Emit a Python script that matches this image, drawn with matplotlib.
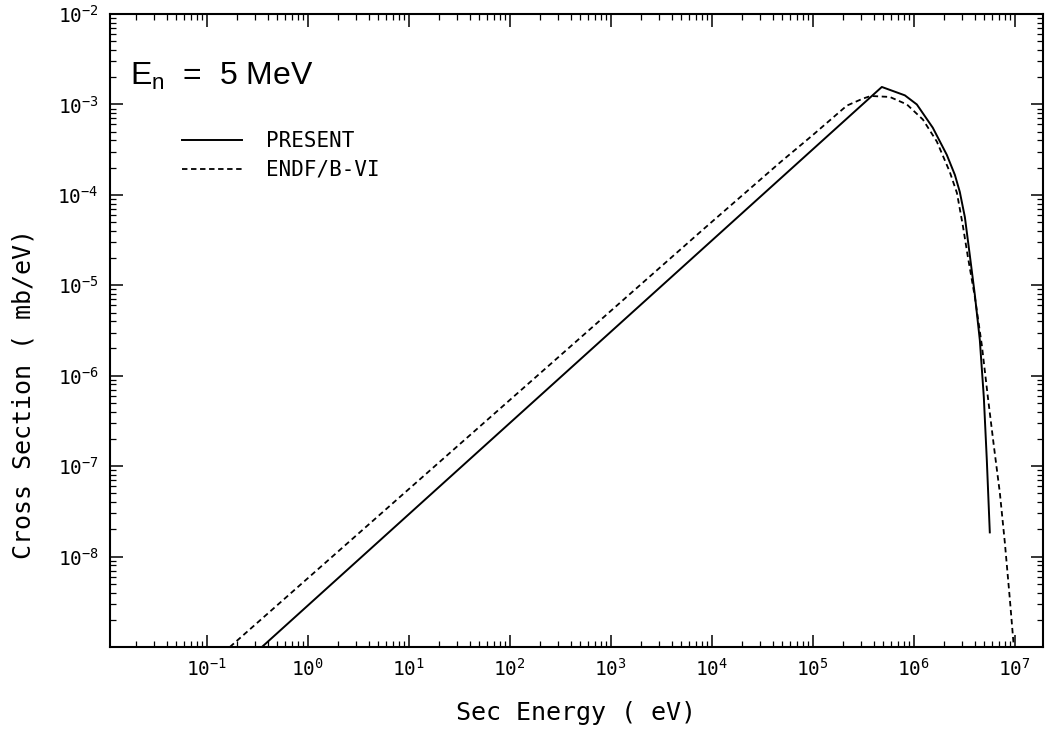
import matplotlib
matplotlib.use("Agg")
import matplotlib.pyplot as plt
from matplotlib.ticker import FixedLocator, LogLocator, NullFormatter

# secondary energy spectrum, En = 5 MeV

# PRESENT (solid)
present_e = [0.351, 4.82e5, 8.15e5, 1.07e6, 1.54e6, 2.12e6, 2.55e6, 2.85e6,
             3.20e6, 3.58e6, 4.02e6, 4.50e6, 4.93e6, 5.28e6, 5.65e6]
present_xs = [1.0e-9, 1.56e-3, 1.26e-3, 1.0e-3, 5.53e-4, 2.77e-4, 1.66e-4, 1.08e-4,
              5.68e-5, 2.16e-5, 7.8e-6, 2.48e-6, 5.78e-7, 1.16e-7, 1.85e-8]

# ENDF/B-VI (dashed)
endf_e = [0.169, 8.15e3, 4.71e4, 1.0e5, 2.17e5, 3.13e5, 3.75e5, 5.78e5, 8.53e5,
          1.23e6, 1.69e6, 2.27e6, 2.67e6, 3.05e6, 3.43e6, 4.02e6, 4.71e6, 5.41e6,
          6.19e6, 7.1e6, 7.96e6, 8.92e6, 9.77e6]
endf_xs = [1.0e-9, 4.12e-5, 2.27e-4, 4.59e-4, 9.7e-4, 1.16e-3, 1.24e-3, 1.21e-3, 1.0e-3,
           6.8e-4, 3.88e-4, 1.79e-4, 1.05e-4, 4.63e-5, 2.05e-5, 7.4e-6, 2.18e-6, 5.77e-7,
           1.69e-7, 5.1e-8, 1.43e-8, 3.4e-9, 1.0e-9]

x_major = [1e-1, 1e0, 1e1, 1e2, 1e3, 1e4, 1e5, 1e6, 1e7]
x_exps = [-1, 0, 1, 2, 3, 4, 5, 6, 7]
y_major = [1e-8, 1e-7, 1e-6, 1e-5, 1e-4, 1e-3, 1e-2]
y_exps = [-8, -7, -6, -5, -4, -3, -2]

MONO = "DejaVu Sans Mono"
plt.rcParams["font.family"] = MONO

fig = plt.figure(figsize=(10.49, 7.30), dpi=100)
ax = fig.add_axes([110 / 1049, 83 / 730, 933 / 1049, 633 / 730])

ax.plot(present_e, present_xs, color="black", lw=1.4, label="PRESENT")
ax.plot(endf_e, endf_xs, color="black", lw=1.3, dashes=(3, 2), label="ENDF/B-VI")

ax.set_xscale("log")
ax.set_yscale("log")
ax.set_xlim(1.1e-2, 1.9e7)
ax.set_ylim(1e-9, 1e-2)

ax.xaxis.set_major_locator(FixedLocator(x_major))
ax.set_xticklabels([r"$\mathregular{10^{%d}}$" % e for e in x_exps])
ax.yaxis.set_major_locator(FixedLocator(y_major))
ax.set_yticklabels([r"$\mathregular{10^{%d}}$" % e for e in y_exps])
ax.xaxis.set_minor_locator(LogLocator(base=10, subs=range(2, 10), numticks=30))
ax.yaxis.set_minor_locator(LogLocator(base=10, subs=range(2, 10), numticks=30))
ax.xaxis.set_minor_formatter(NullFormatter())
ax.yaxis.set_minor_formatter(NullFormatter())

ax.tick_params(which="both", direction="in", top=True, right=True, labelsize=14)
ax.tick_params(which="major", length=9, width=1.1, pad=8)
ax.tick_params(which="minor", length=4.5, width=0.9)
for sp in ax.spines.values():
    sp.set_linewidth(1.5)

ax.set_xlabel("Sec Energy ( eV)", fontsize=18)
ax.set_ylabel("Cross Section ( mb/eV)", fontsize=18)
ax.xaxis.set_label_coords(0.5, -0.085)
ax.yaxis.set_label_coords(-0.08, 0.40)

ax.text(0.021, 0.888, r"E$_\mathregular{n}$  =  5 MeV", transform=ax.transAxes,
        fontsize=23, family="Liberation Sans", va="baseline", ha="left")

ax.legend(loc="upper left", bbox_to_anchor=(0.077, 0.815), frameon=False,
          fontsize=15, handlelength=2.9, handletextpad=1.15, labelspacing=0.42,
          borderpad=0, borderaxespad=0)

fig.savefig("out.png", dpi=100)
